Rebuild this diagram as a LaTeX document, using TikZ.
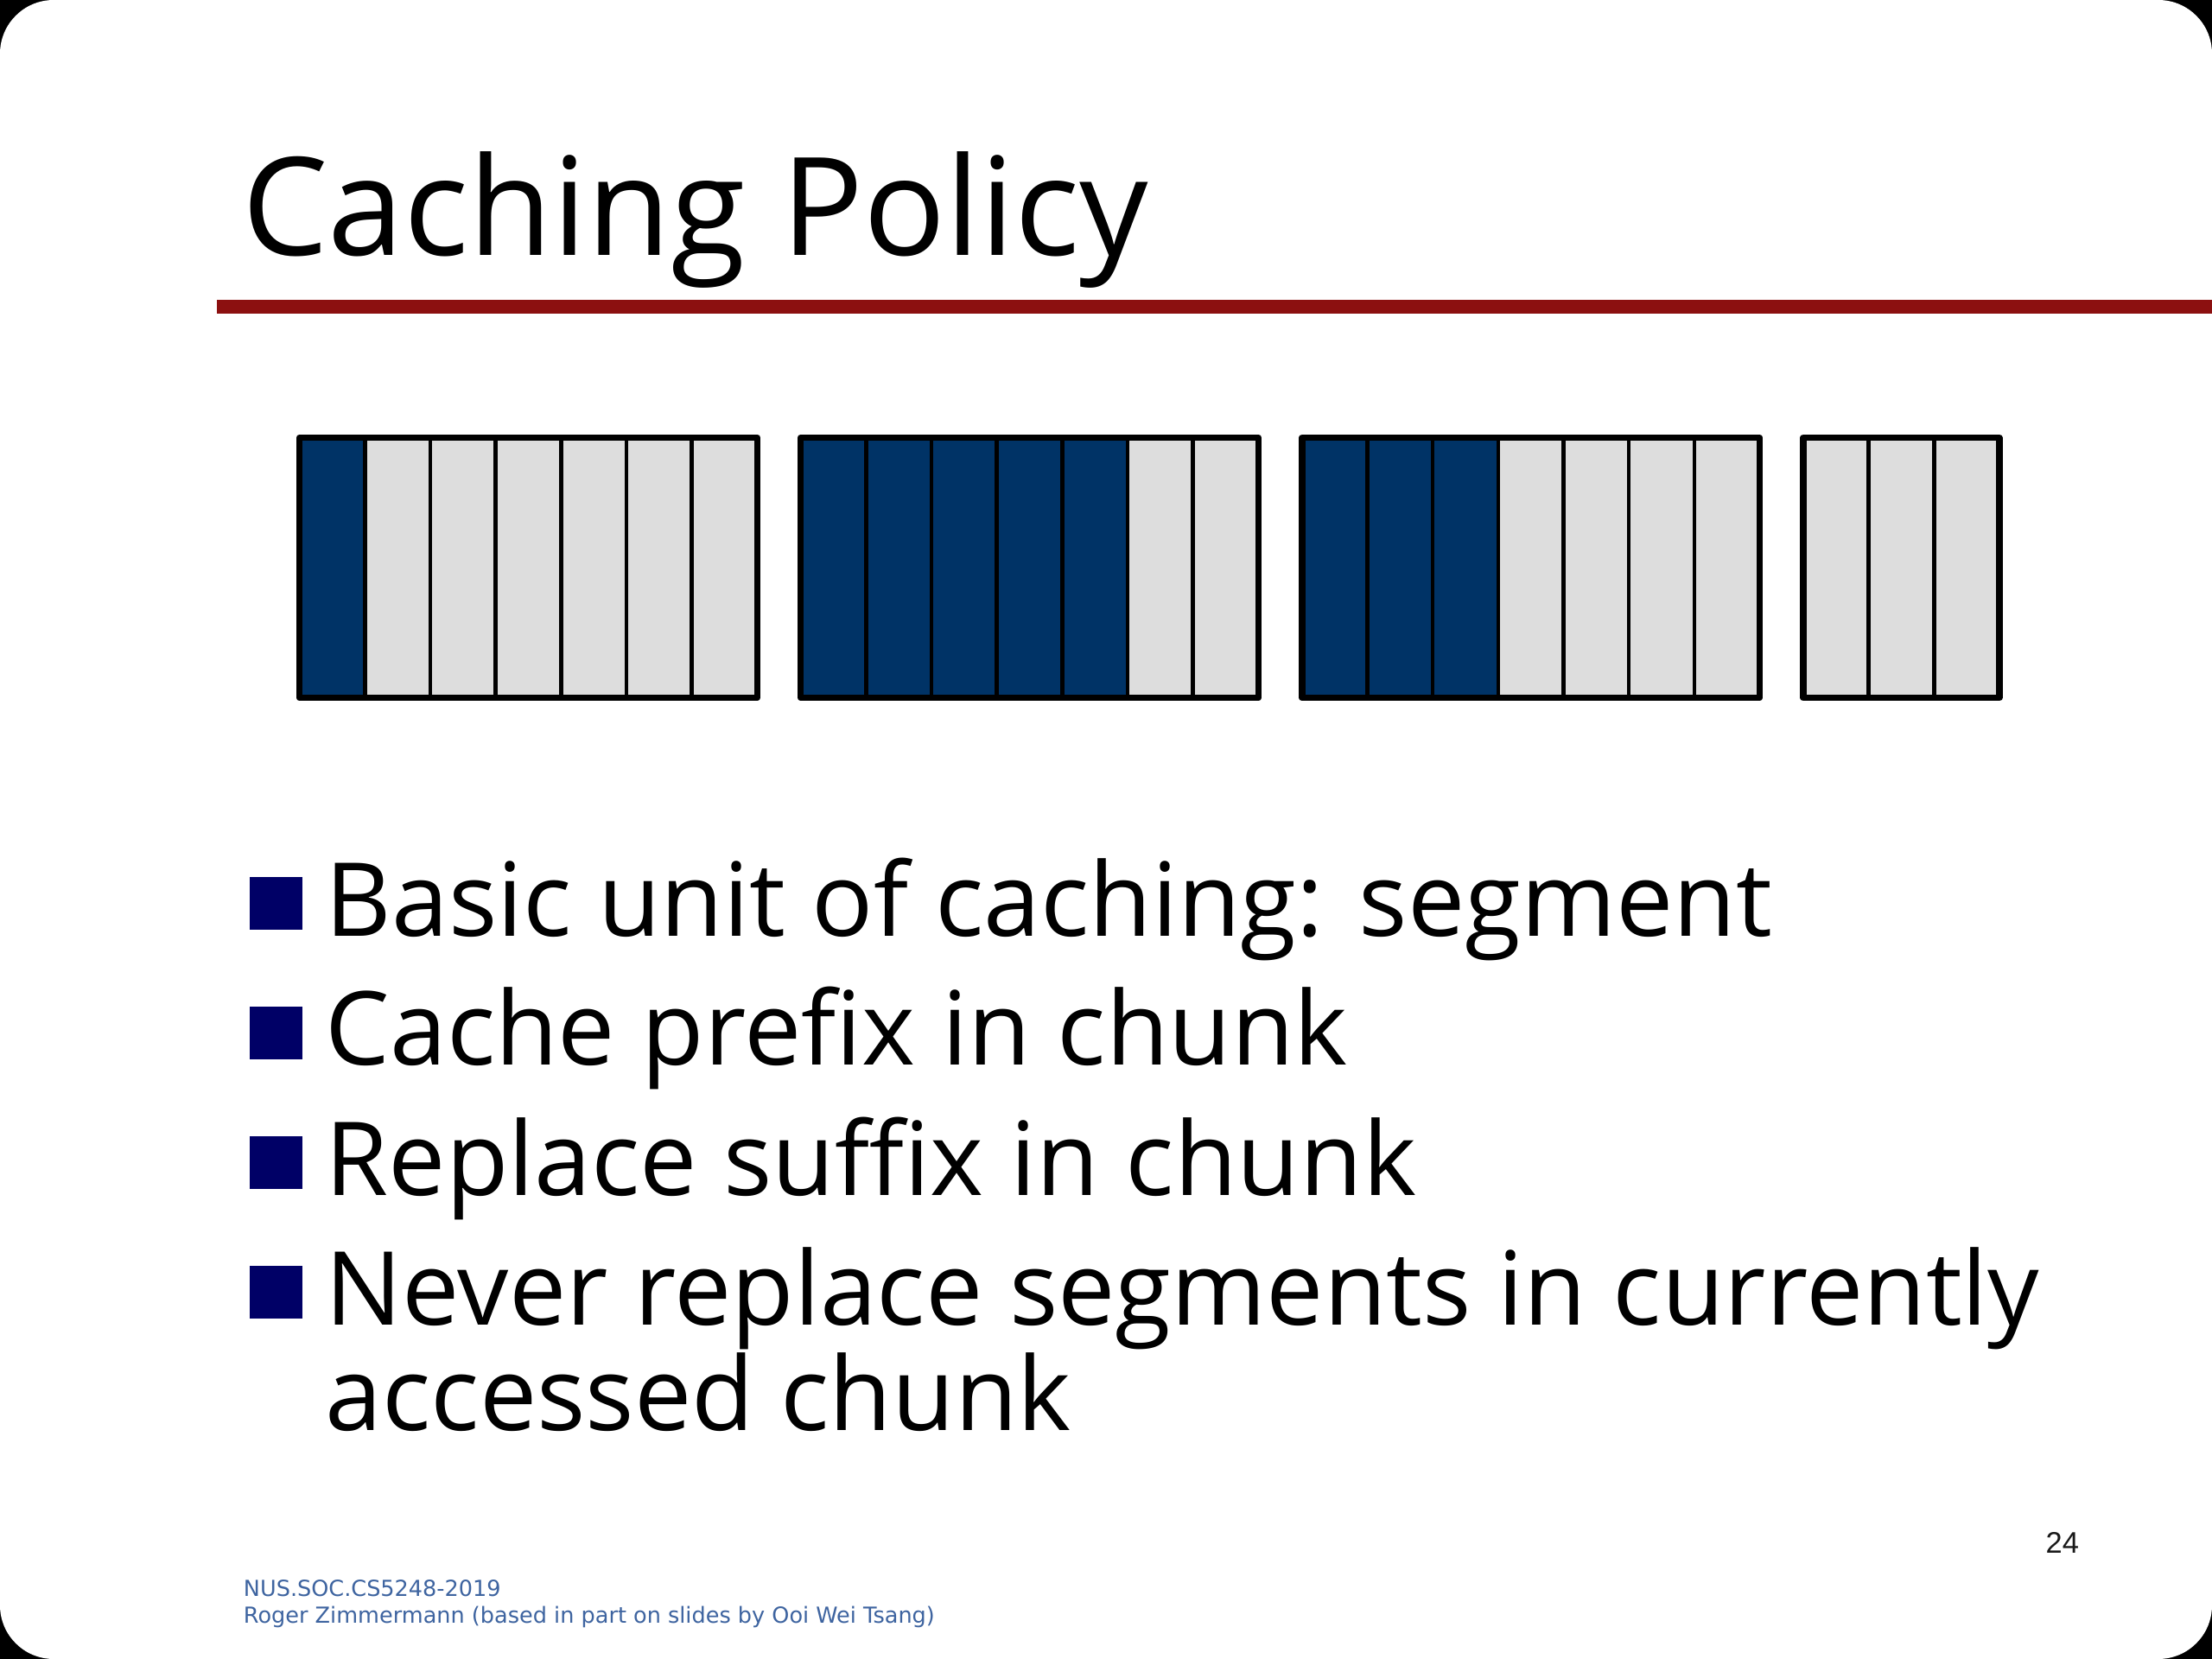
\documentclass[tikz,border=0pt]{standalone}
\usepackage{fontspec}
\setmainfont{Open Sans}
\newfontfamily\footfont{DejaVu Sans}
\newfontfamily\numfont{Liberation Sans}
\usetikzlibrary{positioning}
\definecolor{segblue}{RGB}{0,51,102}
\definecolor{seggrey}{RGB}{221,221,221}
\definecolor{bulletblue}{RGB}{0,0,102}
\definecolor{rulered}{RGB}{140,16,16}
\definecolor{footblue}{RGB}{62,100,160}
\tikzset{
	itemtext/.style={anchor=base west,inner sep=0,font=\fontsize{20.6}{21.3}\selectfont},
	bulletsq/.style={fill=bulletblue,inner sep=0,minimum size=0.37cm},
	foottext/.style={anchor=base west,inner sep=0,text=footblue,font=\footfont\fontsize{4.45}{5.4}\selectfont}
}
\begin{document}
\begin{tikzpicture}[x=0.01cm,y=-0.01cm,line join=round]
		%==Phần thông số có thể tùy chỉnh
		\def\cellw{46.35}
		\def\cellh{184.4}
		\def\ytop{310.3}
		\def\pitch{355.3}
		%==============
		\useasboundingbox (0,0) rectangle (1568,1176);
		\fill[black] (0,0) rectangle (1568,1176);
		\fill[white,rounded corners=0.38cm] (0,0) rectangle (1568,1176);
		%==tiêu đề
		\node[anchor=base west,inner sep=0,font=\fontsize{27.5}{33}\selectfont] (title) at (171,181) {Caching Policy};
		\draw[rulered,line width=2.8pt] (154,217.4)coordinate(R1)--(1568,217.4)coordinate(R2);
		%==các chunk
		\foreach \k/\nc/\nb in {0/7/1,1/7/5,2/7/3,3/3/0}{
			\pgfmathsetmacro\xo{212.3+\pitch*\k}
			\foreach \i in {1,...,\nc}{
				\ifnum\i>\nb \def\col{seggrey}\else\def\col{segblue}\fi
				\draw[line width=0.8pt,fill=\col] (\xo+\cellw*\i-\cellw,\ytop) rectangle ++(\cellw,\cellh);
			}
			\draw[line width=1.3pt] (\xo,\ytop) rectangle ++(\cellw*\nc,\cellh);
		}
		%==các dòng
		\foreach \j/\yb in {1/663.4,2/755.2,3/847.1,4/939}{\node[bulletsq] (sq\j) at (195.7,\yb-23) {};}
		\node[itemtext] (item1) at (230,663.4) {Basic unit of caching: segment};
		\node[itemtext] (item2) at (230,755.2) {Cache prefix in chunk};
		\node[itemtext] (item3) at (230,847.1) {Replace suffix in chunk};
		\node[itemtext] (item4) at (230,939) {Never replace segments in currently};
		\node[itemtext] (item4b) at (230,1014) {accessed chunk};
		%==chân trang
		\node[foottext] (foot1) at (172,1131.4) {NUS.SOC.CS5248-2019};
		\node[foottext] (foot2) at (172,1150.5) {Roger Zimmermann (based in part on slides by Ooi Wei Tsang)};
		\node[anchor=base west,inner sep=0,text=black!90,font=\numfont\fontsize{6}{7}\selectfont] (page) at (1449.5,1100.9) {24};
\end{tikzpicture}
\end{document}
